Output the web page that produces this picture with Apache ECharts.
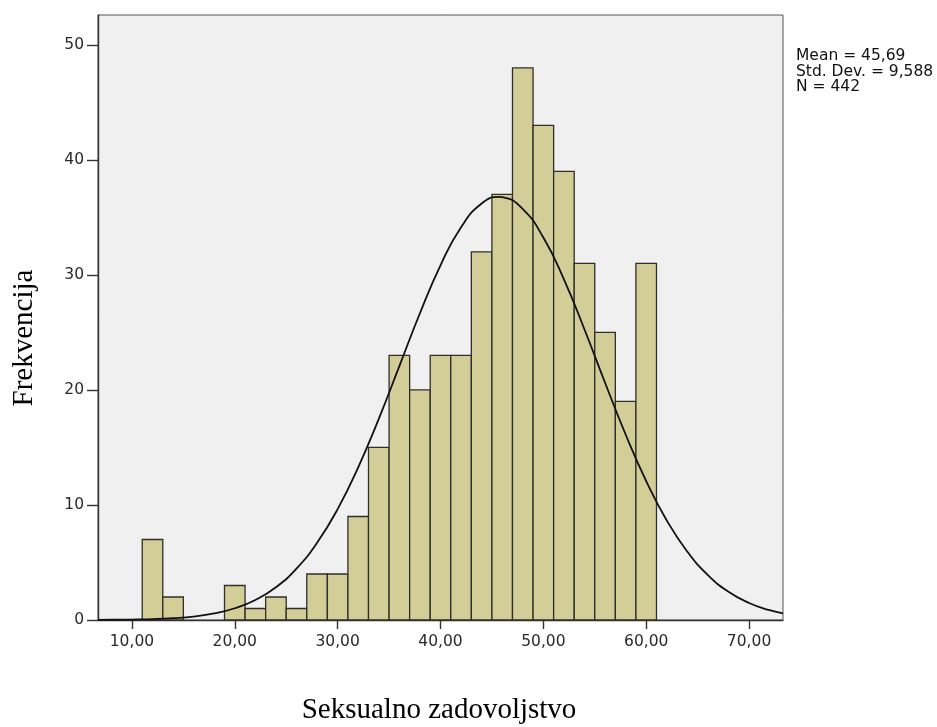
<!DOCTYPE html>
<html>
<head>
<meta charset="utf-8">
<script src="https://cdn.jsdelivr.net/npm/echarts@6/dist/echarts.min.js"></script>
<style>
html,body{margin:0;padding:0;background:#fff;}
#c{width:937px;height:727px;}
</style>
</head>
<body>
<div id="c"></div>
<script>
// Histogram bins (left edge, width 2) and frequencies
const binStarts = [11,13,15,17,19,21,23,25,27,29,31,33,35,37,39,41,43,45,47,49,51,53,55,57,59];
const binWidth = 2;
const counts = [7,2,0,0,3,1,2,1,4,4,9,15,23,20,23,23,32,37,48,43,39,31,25,19,31];
// Normal curve
const curveX = [6.7,8,10,12,14,16,18,20,22,24,26,28,30,32,34,36,38,40,42,44,45.69,46,48,50,52,54,56,58,60,62,64,66,68,70,72,73.3];
const curveY = [0.01,0.02,0.04,0.08,0.16,0.30,0.57,1.02,1.74,2.85,4.47,6.71,9.64,13.27,17.49,22.07,26.67,30.84,34.15,36.21,36.78,36.76,35.73,33.25,29.62,25.26,20.63,16.13,12.08,8.65,5.94,3.90,2.45,1.48,0.85,0.58];
const xTicks = [10,20,30,40,50,60,70];
const yTicks = [0,10,20,30,40,50];
const statsLines = ['Mean = 45,69','Std. Dev. = 9,588','N = 442'];
const xTitle = 'Seksualno zadovoljstvo';
const yTitle = 'Frekvencija';

const histData = binStarts.map((s,i)=>[s, s+binWidth, counts[i]]);
const curveData = curveX.map((x,i)=>[x, curveY[i]]);

const chart = echarts.init(document.getElementById('c'), null, {renderer:'canvas'});
const labelFont = {color:'#2a2a2a', fontFamily:'"DejaVu Sans", sans-serif', fontSize:15.5};
chart.setOption({
  animation:false,
  backgroundColor:'#fff',
  grid:{left:98, top:15, right:154, bottom:107, show:true, backgroundColor:'#f0f0f0', borderColor:'#555', borderWidth:1},
  xAxis:{
    type:'value', min:6.7, max:73.3,
    splitLine:{show:false},
    axisLine:{show:true, onZero:false, lineStyle:{color:'#333', width:1.4}},
    axisTick:{show:true, length:9, customValues:xTicks, lineStyle:{color:'#333', width:1.4}},
    axisLabel:Object.assign({customValues:xTicks, margin:14, formatter:v=>v.toFixed(2).replace('.',',')}, labelFont)
  },
  yAxis:{
    type:'value', min:0, max:52.6,
    splitLine:{show:false},
    axisLine:{show:true, lineStyle:{color:'#333', width:1.4}},
    axisTick:{show:true, length:11, customValues:yTicks, lineStyle:{color:'#333', width:1.4}},
    axisLabel:Object.assign({customValues:yTicks, margin:14}, labelFont)
  },
  series:[
    {
      type:'custom',
      data:histData,
      encode:{x:[0,1], y:2},
      renderItem:function(params, api){
        const y = api.value(2);
        if (!y) return null;
        const p0 = api.coord([api.value(0), y]);
        const p1 = api.coord([api.value(1), 0]);
        return {type:'rect', shape:{x:p0[0], y:p0[1], width:p1[0]-p0[0], height:p1[1]-p0[1]},
          style:{fill:'#d3ce97', stroke:'#2e2e2a', lineWidth:1.3}};
      },
      z:2
    },
    {
      type:'line', data:curveData, smooth:true, showSymbol:false, symbol:'none',
      lineStyle:{color:'#111', width:1.8}, z:3, clip:true
    }
  ],
  graphic:[
    {type:'text', left:796, top:48, style:{text:statsLines.join('\n'), font:'15.5px "DejaVu Sans", sans-serif', fill:'#111', lineHeight:15.7}},
    {type:'text', x:24, y:338, rotation:Math.PI/2, style:{text:yTitle, font:'29px "Liberation Serif", "Times New Roman", serif', fill:'#000', align:'center', verticalAlign:'middle'}},
    {type:'text', x:439, y:710, style:{text:xTitle, font:'29px "Liberation Serif", "Times New Roman", serif', fill:'#000', align:'center', verticalAlign:'middle'}}
  ]
});
</script>
</body>
</html>
